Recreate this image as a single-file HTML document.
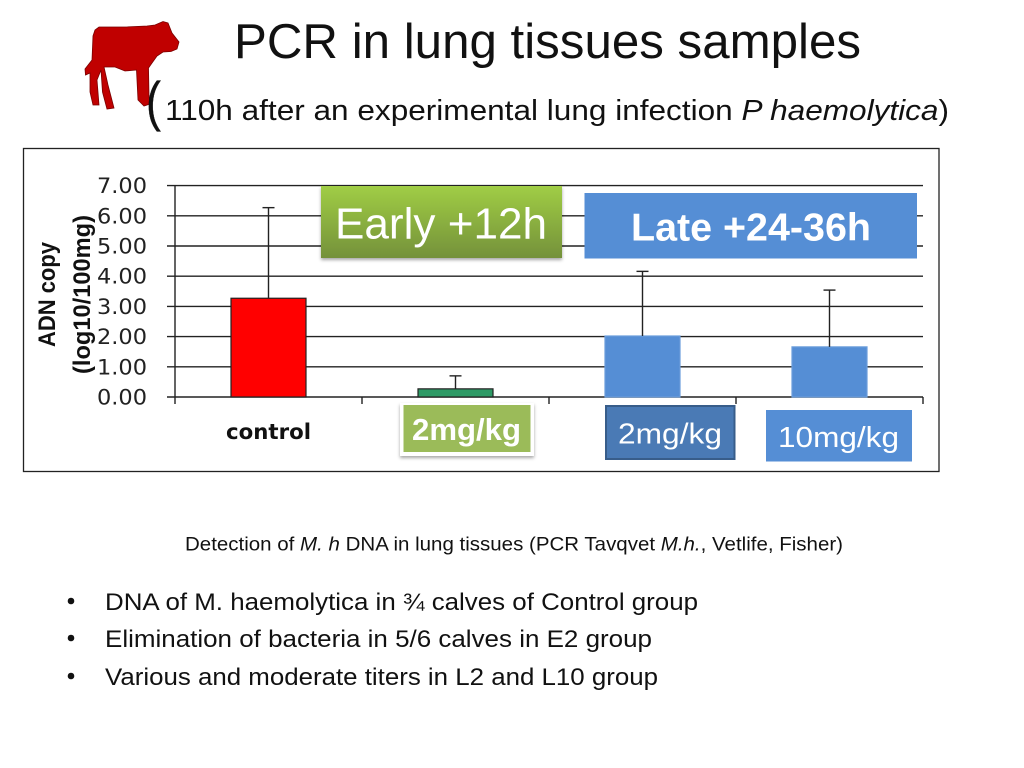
<!DOCTYPE html>
<html lang="en">
<head>
<meta charset="utf-8">
<title>PCR in lung tissues samples</title>
<style>
html,body{margin:0;padding:0;background:#fff;width:1024px;height:768px;overflow:hidden}
svg{display:block}
text{font-family:"Liberation Sans",sans-serif}
.dj{font-family:"DejaVu Sans","Liberation Sans",sans-serif}
.grid{stroke:#222;stroke-width:1.4;fill:none}
.err{stroke:#222;stroke-width:1.4;fill:none}
</style>
</head>
<body>
<svg id="slide" width="1024" height="768" viewBox="0 0 1024 768" xmlns="http://www.w3.org/2000/svg">
  <defs>
    <linearGradient id="earlyGrad" x1="0" y1="0" x2="0" y2="1">
      <stop offset="0" stop-color="#a0cd45"/>
      <stop offset="1" stop-color="#74913a"/>
    </linearGradient>
    <filter id="softShadow" x="-10%" y="-10%" width="120%" height="125%">
      <feDropShadow dx="0" dy="2" stdDeviation="1.6" flood-color="#000" flood-opacity="0.35"/>
    </filter>
  </defs>

  <path fill="#c00000" stroke="#7a0000" stroke-width="0.8"
    d="M99 27 L125 27 L147 26 L155 25 L163 21.500 L168 23 L172 33 L179 42 L177 49 L171 51.500 L163 52 L157 56 L152 63 L148.500 68 L149 96 L150 104 L144 106 L138 100 L136.500 70 L125 71 L115 67 L104 67 L108 85 L114 108 L107 109 L102.500 92 L101 70 L97 80 L99 105 L93 105 L90 92 L90 73 L85.500 75 L85 69 L92 60 L93 36 L95 30 Z"/>

  <text x="234" y="58" font-size="49" textLength="627" lengthAdjust="spacingAndGlyphs" fill="#111">PCR in lung tissues samples</text>
  <text x="146" y="120" font-size="55" textLength="15" lengthAdjust="spacingAndGlyphs" stroke="#111" stroke-width="0.3" fill="#111">(</text>
  <text x="165" y="120" font-size="29" textLength="784" lengthAdjust="spacingAndGlyphs" fill="#111">110h after an experimental lung infection <tspan font-style="italic">P haemolytica</tspan>)</text>

  <rect x="23.500" y="148.500" width="915.500" height="323" fill="#fff" stroke="#222" stroke-width="1.3"/>
  <g id="plot"></g>

  <text transform="translate(55,347) rotate(-90)" font-size="24" font-weight="bold" textLength="105" lengthAdjust="spacingAndGlyphs" fill="#111">ADN copy</text>
  <text transform="translate(90,374) rotate(-90)" font-size="24" font-weight="bold" textLength="159" lengthAdjust="spacingAndGlyphs" fill="#111">(log10/100mg)</text>

  <text class="dj" x="226" y="439" font-size="21" font-weight="bold" textLength="85" lengthAdjust="spacingAndGlyphs" fill="#111">control</text>

  <g>
    <rect x="321" y="186" width="241" height="72" fill="url(#earlyGrad)" filter="url(#softShadow)"/>
    <text x="335" y="238.500" font-size="44" textLength="212" lengthAdjust="spacingAndGlyphs" fill="#fff">Early +12h</text>
  </g>
  <g>
    <rect x="584.500" y="193" width="332.500" height="65.500" fill="#558ed5"/>
    <text x="631" y="240.500" font-size="39" font-weight="bold" textLength="240" lengthAdjust="spacingAndGlyphs" fill="#fff">Late +24-36h</text>
  </g>
  <g>
    <rect x="400" y="403" width="134" height="53" fill="#fff" filter="url(#softShadow)"/>
    <rect x="403.500" y="405" width="127" height="47" fill="#9bbb59"/>
    <text x="412" y="440" font-size="31" font-weight="bold" textLength="109" lengthAdjust="spacingAndGlyphs" fill="#fff">2mg/kg</text>
  </g>
  <g>
    <rect x="606" y="406" width="128.500" height="53" fill="#4a7ab5" stroke="#385d8a" stroke-width="2"/>
    <text x="618" y="443.500" font-size="29" textLength="104" lengthAdjust="spacingAndGlyphs" fill="#fff">2mg/kg</text>
  </g>
  <g>
    <rect x="766" y="410" width="146" height="51.500" fill="#558ed5"/>
    <text x="778" y="447" font-size="29" textLength="121" lengthAdjust="spacingAndGlyphs" fill="#fff">10mg/kg</text>
  </g>

  <text x="185" y="550.500" font-size="19.500" textLength="658" lengthAdjust="spacingAndGlyphs" fill="#111">Detection of <tspan font-style="italic">M. h</tspan> DNA in lung tissues (PCR Tavqvet <tspan font-style="italic">M.h.</tspan>, Vetlife, Fisher)</text>

  <circle cx="71" cy="601" r="3.300" fill="#111"/>
  <text x="105" y="610" font-size="24" textLength="593" lengthAdjust="spacingAndGlyphs" fill="#111">DNA of M. haemolytica in ¾ calves of Control group</text>
  <circle cx="71" cy="638" r="3.300" fill="#111"/>
  <text x="105" y="647" font-size="24" textLength="547" lengthAdjust="spacingAndGlyphs" fill="#111">Elimination of bacteria in 5/6 calves in E2 group</text>
  <circle cx="71" cy="676" r="3.300" fill="#111"/>
  <text x="105" y="685" font-size="24" textLength="553" lengthAdjust="spacingAndGlyphs" fill="#111">Various and moderate titers in L2 and L10 group</text>
</svg>

<script>
const categories = ['control', 'early-2mg', 'late-2mg', 'late-10mg'];
const meanValues = [3.27, 0.27, 2.02, 1.66];
const upperValues = [6.27, 0.70, 4.16, 3.54];
const tickValues = [0, 1, 2, 3, 4, 5, 6, 7];
const tickLabels = ['0.00', '1.00', '2.00', '3.00', '4.00', '5.00', '6.00', '7.00'];

const NS = 'http://www.w3.org/2000/svg';
const plot = document.getElementById('plot');
const plotLeft = 175, plotRight = 923, plotBase = 397, unitHeight = 30.2;
const barFills = ['#ff0000', '#2e9a66', '#558ed5', '#558ed5'];
const barStrokes = ['#222', '#222', '#6a9ddb', '#6a9ddb'];
const yScale = v => plotBase - v * unitHeight;
const bandWidth = (plotRight - plotLeft) / categories.length;
const xScale = i => plotLeft + bandWidth * (i + 0.5);

function make(tag, attrs, text) {
  const el = document.createElementNS(NS, tag);
  for (const k in attrs) el.setAttribute(k, attrs[k]);
  if (text !== undefined) el.textContent = text;
  plot.appendChild(el);
  return el;
}

tickValues.forEach((v, i) => {
  const y = yScale(v);
  const grid = make('line', {x1: 167, x2: plotRight, y1: y, y2: y, class: 'grid'});
  
  
  const label = make('text', {x: 97, y: y + 7.5, class: 'dj', 'font-size': 21, textLength: 50, lengthAdjust: 'spacingAndGlyphs', fill: '#222'}, tickLabels[i]);
  
  
});

const yAxis = make('line', {x1: plotLeft, x2: plotLeft, y1: yScale(7), y2: plotBase + 7, class: 'grid'});



for (let i = 1; i <= categories.length; i++) {
  const x = plotLeft + bandWidth * i;
  const tick = make('line', {x1: x, x2: x, y1: plotBase, y2: plotBase + 7, class: 'grid'});
  
  
}

categories.forEach((c, i) => {
  const cx = xScale(i);
  const top = yScale(meanValues[i]);
  const errTop = yScale(upperValues[i]);
  const bar = make('rect', {x: cx - 37.5, y: top, width: 75, height: plotBase - top, fill: barFills[i], stroke: barStrokes[i], 'stroke-width': 1.2});
  
  
  const stem = make('line', {x1: cx, x2: cx, y1: top, y2: errTop, class: 'err'});
  
  
  const cap = make('line', {x1: cx - 6, x2: cx + 6, y1: errTop, y2: errTop, class: 'err'});
  
  
});
</script>
</body>
</html>
